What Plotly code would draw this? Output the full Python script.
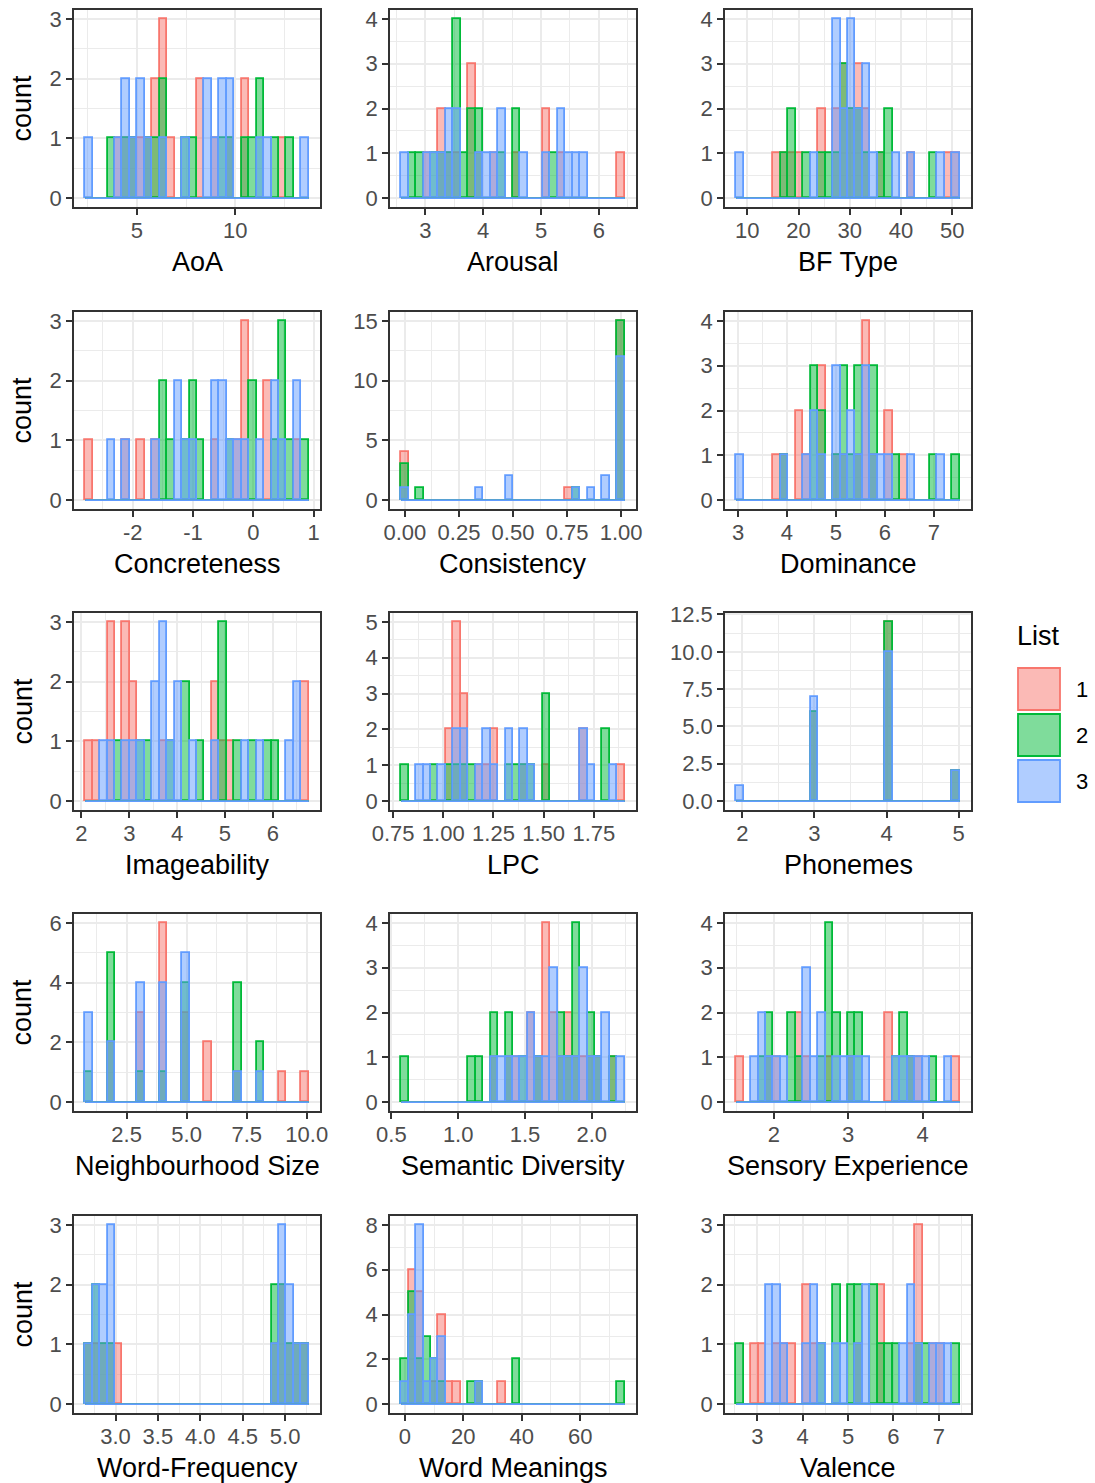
import numpy as np
import plotly.graph_objects as go

# ---------------------------------------------------------------- data
VARIABLES = ["AoA", "Arousal", "BF Type",
             "Concreteness", "Consistency", "Dominance",
             "Imageability", "LPC", "Phonemes",
             "Neighbourhood Size", "Semantic Diversity", "Sensory Experience",
             "Word-Frequency", "Word Meanings", "Valence"]
LISTS = ["1", "2", "3"]

# centre of the first bin and the bin width of every panel (30 bins each)
BIN_FIRST = [2.56, 2.6445, 8.557,
             -2.725, 0.0, 3.039,
             2.157, 0.809, 1.9655,
             0.931, 0.601, 1.544,
             2.686, 0.0, 2.617]
BIN_WIDTH = [0.3793, 0.129, 1.4543,
             0.12353, 1 / 29, 0.15223,
             0.15577, 0.03712, 3 / 29,
             9 / 29, 0.05583, 0.10027,
             0.08793, 74 / 29, 0.16427]

# word counts per bin, one list per word list
AOA_1 = [0,0,0,0,1,1,1,1,1,2,3,1,0,0,0,2,0,1,0,1,0,2,0,0,0,0,1,0,0,0]
AOA_2 = [0,0,0,1,0,1,1,0,1,1,2,0,0,1,1,0,0,0,1,1,0,1,1,2,0,1,0,1,0,0]
AOA_3 = [1,0,0,0,1,2,1,2,1,0,1,0,0,1,0,0,2,1,2,2,0,0,0,1,1,0,0,0,0,1]

AROUSAL_1 = [0,0,0,1,0,2,1,1,0,3,1,0,1,0,0,1,0,0,0,2,0,1,0,0,0,0,0,0,0,1]
AROUSAL_2 = [0,1,1,0,1,1,1,4,1,2,2,0,0,1,0,2,0,0,0,0,1,0,0,0,0,0,0,0,0,0]
AROUSAL_3 = [1,0,0,1,1,1,2,2,0,0,1,1,1,2,0,0,1,0,0,1,0,2,1,1,1,0,0,0,0,0]

BFTYPE_1 = [0,0,0,0,0,1,1,1,1,0,0,2,0,2,3,2,3,2,0,1,0,0,0,1,0,0,0,0,1,1]
BFTYPE_2 = [0,0,0,0,0,0,1,2,0,1,0,1,1,1,3,2,2,1,0,1,2,0,0,0,0,0,1,0,0,0]
BFTYPE_3 = [1,0,0,0,0,0,0,0,0,0,1,0,0,4,2,4,2,3,1,0,0,1,0,1,0,0,0,1,0,1]

CONCRETE_1 = [1,0,0,0,0,1,0,1,0,1,0,0,0,0,0,0,0,1,0,0,1,3,0,0,2,0,0,0,1,0]
CONCRETE_2 = [0,0,0,0,0,0,0,0,0,0,2,1,0,1,2,1,0,0,0,1,0,0,2,0,0,1,3,1,0,1]
CONCRETE_3 = [0,0,0,1,0,1,0,0,0,1,0,0,2,1,1,0,0,2,2,1,1,1,0,1,0,2,1,0,2,0]

CONSIST_1 = [4,0,0,0,0,0,0,0,0,0,0,0,0,0,0,0,0,0,0,0,0,0,1,0,0,0,0,0,0,15]
CONSIST_2 = [3,0,1,0,0,0,0,0,0,0,0,0,0,0,0,0,0,0,0,0,0,0,0,1,0,0,0,0,0,15]
CONSIST_3 = [1,0,0,0,0,0,0,0,0,0,1,0,0,0,2,0,0,0,0,0,0,0,0,1,0,1,0,2,0,12]

DOMIN_1 = [0,0,0,0,0,1,1,0,2,1,0,3,0,1,1,0,1,4,1,0,2,0,1,0,0,0,0,0,0,0]
DOMIN_2 = [0,0,0,0,0,0,1,0,0,0,3,2,0,1,3,1,3,0,3,0,0,1,0,0,0,0,1,0,0,1]
DOMIN_3 = [1,0,0,0,0,0,1,0,0,1,2,1,0,3,1,2,1,3,1,1,1,0,0,1,0,0,0,1,0,0]

IMAGE_1 = [1,1,0,3,0,3,2,0,0,0,1,0,0,0,0,0,0,2,1,1,0,0,0,0,0,0,0,0,0,2]
IMAGE_2 = [0,0,0,0,1,0,0,1,1,0,0,1,0,2,0,1,0,0,3,0,1,0,1,0,1,1,0,0,0,0]
IMAGE_3 = [0,0,1,1,0,1,1,1,0,2,3,1,2,0,1,0,0,1,0,0,0,1,0,1,0,0,0,1,2,0]

LPC_1 = [0,0,0,0,0,0,2,5,3,0,1,1,2,0,0,0,1,0,0,1,0,0,0,0,2,0,0,0,0,1]
LPC_2 = [1,0,0,0,1,0,1,1,1,1,0,0,0,0,1,1,1,1,0,3,0,0,0,0,0,0,0,2,0,0]
LPC_3 = [0,0,1,1,0,1,0,2,2,0,1,2,1,0,2,0,2,1,0,0,0,0,0,0,2,1,0,0,1,0]

PHON_1 = [0,0,0,0,0,0,0,0,0,0,6,0,0,0,0,0,0,0,0,0,12,0,0,0,0,0,0,0,0,2]
PHON_2 = [0,0,0,0,0,0,0,0,0,0,6,0,0,0,0,0,0,0,0,0,12,0,0,0,0,0,0,0,0,2]
PHON_3 = [1,0,0,0,0,0,0,0,0,0,7,0,0,0,0,0,0,0,0,0,10,0,0,0,0,0,0,0,0,2]

NEIGH_1 = [0,0,0,2,0,0,0,3,0,0,6,0,0,3,0,0,2,0,0,0,1,0,0,0,0,0,1,0,0,1]
NEIGH_2 = [1,0,0,5,0,0,0,1,0,0,1,0,0,4,0,0,0,0,0,0,4,0,0,2,0,0,0,0,0,0]
NEIGH_3 = [3,0,0,2,0,0,0,4,0,0,4,0,0,5,0,0,0,0,0,0,1,0,0,1,0,0,0,0,0,0]

SEMDIV_1 = [0,0,0,0,0,0,0,0,0,0,0,0,1,0,1,1,0,2,1,4,2,1,2,1,1,1,1,0,1,0]
SEMDIV_2 = [1,0,0,0,0,0,0,0,0,1,1,0,2,0,2,0,1,0,1,0,0,2,1,4,0,2,1,0,1,0]
SEMDIV_3 = [0,0,0,0,0,0,0,0,0,0,0,0,1,1,1,1,1,2,1,1,3,1,1,1,3,1,1,2,0,1]

SENSORY_1 = [1,0,0,0,1,1,0,0,2,1,0,0,1,0,0,1,0,0,0,0,2,0,0,1,1,0,0,0,0,1]
SENSORY_2 = [0,0,0,1,2,0,0,2,1,0,0,1,4,2,0,2,2,0,0,0,0,1,2,1,0,0,1,0,0,0]
SENSORY_3 = [0,0,1,2,1,1,1,0,0,3,1,2,0,1,1,1,1,1,0,0,0,1,1,1,1,1,0,0,1,0]

WFREQ_1 = [1,1,1,1,1,0,0,0,0,0,0,0,0,0,0,0,0,0,0,0,0,0,0,0,0,1,2,1,1,1]
WFREQ_2 = [1,2,1,1,0,0,0,0,0,0,0,0,0,0,0,0,0,0,0,0,0,0,0,0,0,2,2,1,1,1]
WFREQ_3 = [1,2,2,3,0,0,0,0,0,0,0,0,0,0,0,0,0,0,0,0,0,0,0,0,0,1,3,2,1,1]

MEANING_1 = [0,6,5,0,1,4,1,1,0,0,1,0,0,1,0,0,0,0,0,0,0,0,0,0,0,0,0,0,0,0]
MEANING_2 = [2,5,2,3,2,1,0,0,0,1,1,0,0,0,0,2,0,0,0,0,0,0,0,0,0,0,0,0,0,1]
MEANING_3 = [1,4,8,1,2,3,0,0,0,0,1,0,0,0,0,0,0,0,0,0,0,0,0,0,0,0,0,0,0,0]

VALENCE_1 = [0,0,1,1,0,1,1,1,0,2,1,0,0,0,0,0,1,0,0,2,0,0,0,1,3,0,1,1,0,0]
VALENCE_2 = [1,0,0,0,0,0,0,0,0,0,0,1,0,2,0,2,2,0,2,1,1,1,0,0,1,1,0,0,0,1]
VALENCE_3 = [0,0,0,0,2,2,1,0,0,1,2,1,0,1,1,0,1,2,0,0,0,0,1,2,1,0,1,1,1,0]

COUNTS = [
    (AOA_1, AOA_2, AOA_3), (AROUSAL_1, AROUSAL_2, AROUSAL_3), (BFTYPE_1, BFTYPE_2, BFTYPE_3),
    (CONCRETE_1, CONCRETE_2, CONCRETE_3), (CONSIST_1, CONSIST_2, CONSIST_3), (DOMIN_1, DOMIN_2, DOMIN_3),
    (IMAGE_1, IMAGE_2, IMAGE_3), (LPC_1, LPC_2, LPC_3), (PHON_1, PHON_2, PHON_3),
    (NEIGH_1, NEIGH_2, NEIGH_3), (SEMDIV_1, SEMDIV_2, SEMDIV_3), (SENSORY_1, SENSORY_2, SENSORY_3),
    (WFREQ_1, WFREQ_2, WFREQ_3), (MEANING_1, MEANING_2, MEANING_3), (VALENCE_1, VALENCE_2, VALENCE_3),
]

X_TICKS = [[5, 10], [3, 4, 5, 6], [10, 20, 30, 40, 50],
           [-2, -1, 0, 1], [0, 0.25, 0.5, 0.75, 1], [3, 4, 5, 6, 7],
           [2, 3, 4, 5, 6], [0.75, 1, 1.25, 1.5, 1.75], [2, 3, 4, 5],
           [2.5, 5, 7.5, 10], [0.5, 1, 1.5, 2], [2, 3, 4],
           [3, 3.5, 4, 4.5, 5], [0, 20, 40, 60], [3, 4, 5, 6, 7]]
X_LABELS = [["5", "10"], ["3", "4", "5", "6"], ["10", "20", "30", "40", "50"],
            ["-2", "-1", "0", "1"], ["0.00", "0.25", "0.50", "0.75", "1.00"], ["3", "4", "5", "6", "7"],
            ["2", "3", "4", "5", "6"], ["0.75", "1.00", "1.25", "1.50", "1.75"], ["2", "3", "4", "5"],
            ["2.5", "5.0", "7.5", "10.0"], ["0.5", "1.0", "1.5", "2.0"], ["2", "3", "4"],
            ["3.0", "3.5", "4.0", "4.5", "5.0"], ["0", "20", "40", "60"], ["3", "4", "5", "6", "7"]]
Y_TICKS = [[0, 1, 2, 3], [0, 1, 2, 3, 4], [0, 1, 2, 3, 4],
           [0, 1, 2, 3], [0, 5, 10, 15], [0, 1, 2, 3, 4],
           [0, 1, 2, 3], [0, 1, 2, 3, 4, 5], [0, 2.5, 5, 7.5, 10, 12.5],
           [0, 2, 4, 6], [0, 1, 2, 3, 4], [0, 1, 2, 3, 4],
           [0, 1, 2, 3], [0, 2, 4, 6, 8], [0, 1, 2, 3]]
Y_LABELS = [[str(v) for v in t] for t in Y_TICKS]
Y_LABELS[8] = ["0.0", "2.5", "5.0", "7.5", "10.0", "12.5"]

# ---------------------------------------------------------------- style
W, H = 1095, 1483
FONT = "Liberation Sans, Arial, Helvetica, sans-serif"
LINE_COLORS = ["#F8766D", "#00BA38", "#619CFF"]
FILL_COLORS = ["rgba(248,118,109,0.5)", "rgba(0,186,56,0.5)", "rgba(97,156,255,0.5)"]
PANEL_LEFT = [74, 390, 725]
PANEL_TOP = [10, 312, 613, 914, 1216]
PANEL_W, PANEL_H = 246, 197
GRID = "#EBEBEB"
BORDER = "#333333"


def minor_values(ticks):
    step = ticks[1] - ticks[0]
    vals = [ticks[0] - step / 2] + [t + step / 2 for t in ticks]
    return vals


fig = go.Figure()
annotations = []

for p, name in enumerate(VARIABLES):
    row, col = divmod(p, 3)
    ax = "" if p == 0 else str(p + 1)
    first, width = BIN_FIRST[p], BIN_WIDTH[p]
    centres = first + width * np.arange(30)
    lo_edge, hi_edge = centres[0] - width / 2, centres[-1] + width / 2
    span = hi_edge - lo_edge

    for g in range(3):
        counts = np.array(COUNTS[p][g], dtype=float)
        shown = [c if c > 0 else None for c in counts]
        fig.add_trace(go.Bar(
            x=centres, y=shown, width=width,
            marker=dict(color=FILL_COLORS[g], line=dict(color=LINE_COLORS[g], width=1.8)),
            xaxis="x" + ax, yaxis="y" + ax, showlegend=False, name=LISTS[g],
        ))
    for g in range(3):
        # empty bins collapse onto the baseline
        fig.add_trace(go.Scatter(
            x=[lo_edge, hi_edge], y=[0, 0], mode="lines",
            line=dict(color=LINE_COLORS[g], width=1.8),
            xaxis="x" + ax, yaxis="y" + ax, showlegend=False, hoverinfo="skip",
        ))

    ymax = max(max(c) for c in COUNTS[p])
    left = PANEL_LEFT[col]
    top = PANEL_TOP[row]
    common = dict(
        showline=True, mirror=True, linecolor=BORDER, linewidth=1.6,
        ticks="outside", ticklen=6, tickwidth=1.6, tickcolor=BORDER,
        showgrid=True, gridcolor=GRID, gridwidth=1.8, zeroline=False,
        tickfont=dict(family=FONT, size=22, color="#4D4D4D"),
        tickmode="array", automargin=False,
    )
    fig.layout["xaxis" + ax] = dict(
        common,
        domain=[left / W, (left + PANEL_W) / W],
        range=[lo_edge - 0.05 * span, hi_edge + 0.05 * span],
        tickvals=X_TICKS[p], ticktext=X_LABELS[p], ticklabelstandoff=-3,
        minor=dict(tickvals=minor_values(X_TICKS[p]), showgrid=True, gridcolor=GRID, gridwidth=0.9),
        anchor="y" + ax,
    )
    fig.layout["yaxis" + ax] = dict(
        common,
        domain=[1 - (top + PANEL_H) / H, 1 - top / H],
        range=[-0.05 * ymax, 1.05 * ymax],
        tickvals=Y_TICKS[p], ticktext=Y_LABELS[p],
        minor=dict(tickvals=minor_values(Y_TICKS[p]), showgrid=True, gridcolor=GRID, gridwidth=0.9),
        anchor="x" + ax,
    )

    annotations.append(dict(
        text=name, x=(left + PANEL_W / 2) / W, y=1 - (top + PANEL_H + 55) / H,
        xref="paper", yref="paper", xanchor="center", yanchor="middle", showarrow=False,
        font=dict(family=FONT, size=27, color="black"),
    ))
    if col == 0:
        annotations.append(dict(
            text="count", x=22 / W, y=1 - (top + PANEL_H / 2) / H, textangle=-90,
            xref="paper", yref="paper", xanchor="center", yanchor="middle", showarrow=False,
            font=dict(family=FONT, size=27, color="black"),
        ))

# legend drawn as keys with labels
shapes = []
annotations.append(dict(
    text="List", x=1015 / W, y=1 - 636 / H, xref="paper", yref="paper",
    xanchor="left", yanchor="middle", showarrow=False,
    font=dict(family=FONT, size=27, color="black"),
))
for g in range(3):
    ky = 668 + 46 * g
    shapes.append(dict(
        type="rect", xref="paper", yref="paper",
        x0=1018 / W, x1=1060 / W, y0=1 - (ky + 42) / H, y1=1 - ky / H,
        fillcolor=FILL_COLORS[g], line=dict(color=LINE_COLORS[g], width=1.8),
    ))
    annotations.append(dict(
        text=LISTS[g], x=1082 / W, y=1 - (ky + 21) / H, xref="paper", yref="paper",
        xanchor="center", yanchor="middle", showarrow=False,
        font=dict(family=FONT, size=22, color="black"),
    ))

fig.update_layout(
    width=W, height=H, margin=dict(l=0, r=0, t=0, b=0, autoexpand=False),
    paper_bgcolor="white", plot_bgcolor="white",
    barmode="overlay", bargap=0, showlegend=False,
    annotations=annotations, shapes=shapes,
    font=dict(family=FONT),
)

fig.write_html("out.html")
